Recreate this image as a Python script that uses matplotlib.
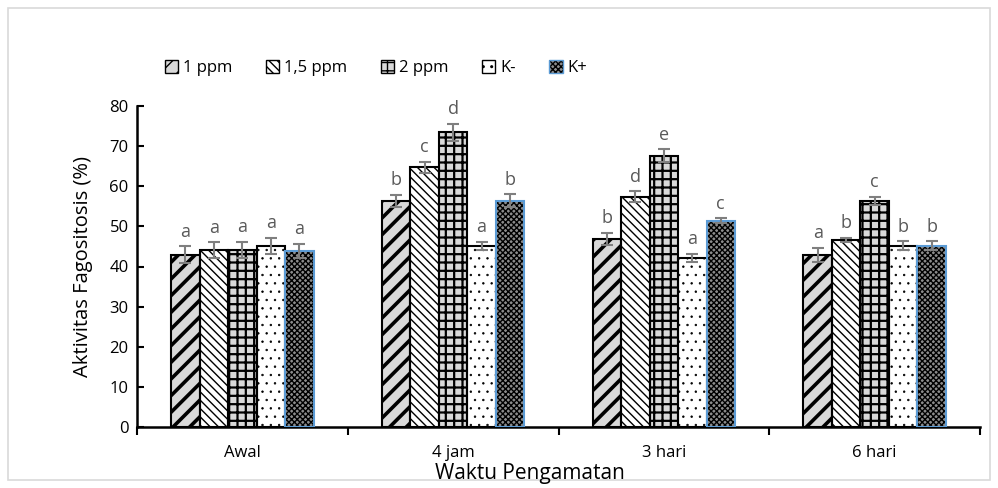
"""Phagocytic activity bar chart (grouped, hatched) with error bars and letters."""

import matplotlib

matplotlib.use('Agg')
import matplotlib.pyplot as plt
import numpy as np
from matplotlib.legend_handler import HandlerTuple
from matplotlib.patches import Patch, Rectangle

plt.rcParams['font.family'] = ['Open Sans', 'DejaVu Sans']

# data
groups = ['Awal', '4 jam', '3 hari', '6 hari']
series = ['1 ppm', '1,5 ppm', '2 ppm', 'K-', 'K+']
means = {
    '1 ppm': [42.9, 56.4, 46.9, 42.9],
    '1,5 ppm': [44.1, 64.7, 57.4, 46.6],
    '2 ppm': [44.1, 73.4, 67.6, 56.4],
    'K-': [45.2, 45.2, 42.2, 45.2],
    'K+': [43.9, 56.4, 51.4, 45.2],
}
errors = {
    '1 ppm': [2.1, 1.45, 1.5, 1.75],
    '1,5 ppm': [1.9, 1.45, 1.3, 0.5],
    '2 ppm': [2.1, 2.2, 1.6, 1.0],
    'K-': [2.0, 1.0, 1.0, 1.1],
    'K+': [1.8, 1.6, 0.6, 1.1],
}
letters = {
    '1 ppm': ['a', 'b', 'b', 'a'],
    '1,5 ppm': ['a', 'c', 'd', 'b'],
    '2 ppm': ['a', 'd', 'e', 'c'],
    'K-': ['a', 'a', 'a', 'b'],
    'K+': ['a', 'b', 'c', 'b'],
}

# series -> (facecolor, hatch, hatch linewidth, outline colour)
STYLES = {
    '1 ppm': ('#d9d9d9', '//', 2.6, 'black'),
    '1,5 ppm': ('white', '\\\\\\\\', 1.0, 'black'),
    '2 ppm': ('#d9d9d9', '++', 1.6, 'black'),
    'K-': ('white', '..', 0.5, 'black'),
    'K+': ('#8c8c8c', 'xxxxxx', 1.0, '#5b9bd5'),
}

WIDTH = 0.135

fig = plt.figure(figsize=(9.98, 4.88), dpi=100)
ax = fig.add_axes([137 / 998, 61 / 488, 843 / 998, 321 / 488])

x = np.arange(len(groups))
for k, name in enumerate(series):
    face, hatch, hlw, edge = STYLES[name]
    pos = x + (k - 2) * WIDTH
    with plt.rc_context({'hatch.linewidth': hlw}):
        ax.bar(pos, means[name], WIDTH, color=face, hatch=hatch,
               edgecolor='black', linewidth=0, zorder=2)
    ax.bar(pos, means[name], WIDTH, fill=False, edgecolor=edge,
           linewidth=1.5, zorder=3)
    ax.errorbar(pos, means[name], yerr=errors[name], fmt='none',
                ecolor='#7f7f7f', elinewidth=1.5, capsize=4, capthick=1.5,
                zorder=4)
    for p, m, e, lab in zip(pos, means[name], errors[name], letters[name]):
        ax.annotate(lab, (p, m + e), xytext=(0, 4), textcoords='offset points',
                    ha='center', va='bottom', fontsize=13, color='#595959')

ax.set_xlim(-0.5, len(groups) - 0.5)
ax.set_ylim(0, 80)
ax.set_yticks(np.arange(0, 81, 10))
ax.tick_params(axis='y', direction='in', length=5, width=1.5, labelsize=12,
               pad=6)
ax.set_xticks(x)
ax.set_xticklabels(groups)
ax.tick_params(axis='x', which='major', length=0, labelsize=12, pad=13)
ax.set_xticks(np.arange(-0.5, len(groups), 1), minor=True)
ax.tick_params(axis='x', which='minor', direction='out', length=6, width=1.5)
for side in ('top', 'right'):
    ax.spines[side].set_visible(False)
for side in ('left', 'bottom'):
    ax.spines[side].set_linewidth(1.8)

ax.set_ylabel('Aktivitas Fagositosis (%)', fontsize=14.5, labelpad=12)
fig.text(530 / 998, 1 - 474 / 488, 'Waktu Pengamatan', fontsize=15,
         ha='center', va='center')

handles = []
for name in series:
    face, hatch, hlw, edge = STYLES[name]
    with plt.rc_context({'hatch.linewidth': min(hlw, 1.5)}):
        fill = Patch(facecolor=face, hatch=hatch, edgecolor='black',
                     linewidth=0)
    outline = Patch(fill=False, edgecolor=edge, linewidth=1.0)
    handles.append((fill, outline))
fig.legend(handles=handles, labels=series, loc='center left',
           bbox_to_anchor=(150 / 998, 1 - 68 / 488), ncol=5, frameon=False,
           fontsize=12, handlelength=0.8, handleheight=0.8, handletextpad=0.3,
           columnspacing=2.0, handler_map={tuple: HandlerTuple(ndivide=1)})

fig.patches.append(Rectangle((8 / 998, 8 / 488), 982 / 998, 472 / 488,
                             transform=fig.transFigure, fill=False,
                             edgecolor='#d9d9d9', linewidth=1.2))

fig.savefig('out.png', dpi=100)
